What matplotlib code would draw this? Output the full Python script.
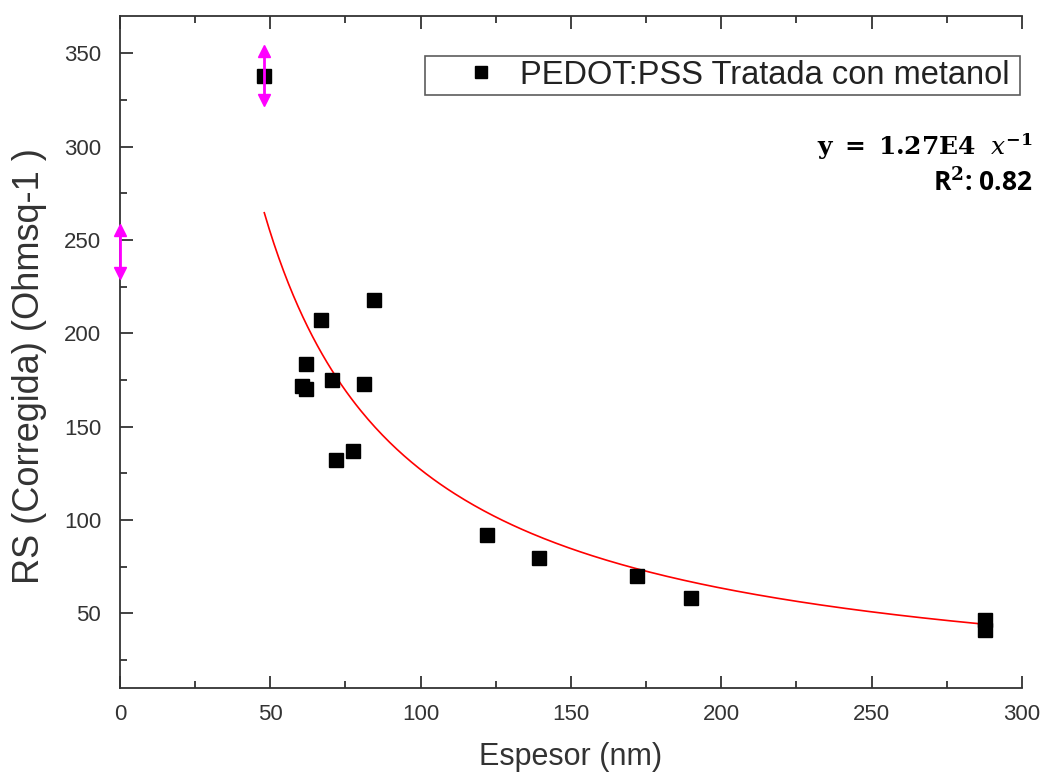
import matplotlib.pyplot as plt
import numpy as np
from matplotlib.ticker import MultipleLocator

# Measured thickness (nm) vs corrected sheet resistance
espesor = [48, 84.5, 67, 62, 60.5, 62, 70.5, 81, 77.5, 72,
           122, 139.5, 172, 190, 287.7, 287.7]
rs = [338, 218, 207, 183.5, 172, 170, 175, 173, 137, 132,
      92, 79.5, 70, 58, 46.5, 41]

# Error bars that are drawn (first point and an extra one on the y axis)
err_x = [48, 0]
err_y = [338, 244]
err_val = [13, 11.5]

# Power fit y = A / x
fit_a = 1.27e4
fit_label = r"$\mathbf{y}\ \mathbf{=}\ \mathbf{1.27E4}\ \ x^{\mathbf{-1}}$"
r2_label = r"R$^\mathbf{2}$: 0.82"

plt.rcParams["font.family"] = ["Liberation Sans", "DejaVu Sans"]
plt.rcParams["mathtext.fontset"] = "dejavuserif"

fig = plt.figure(figsize=(10.45, 7.79), dpi=100)
ax = fig.add_axes([0.1148, 0.1168, 0.8632, 0.8627])

gray = "#333333"
magenta = "#ff00ff"

# fit curve
xf = np.linspace(min(espesor), max(espesor), 300)
ax.plot(xf, fit_a / xf, color="red", lw=1.2, zorder=2)

# data
ax.plot(espesor, rs, "s", color="black", markersize=10, zorder=3,
        label="PEDOT:PSS Tratada con metanol")

# magenta error bars with arrow caps
ey = np.array(err_y)
ev = np.array(err_val)
eb = ax.errorbar(err_x, err_y, yerr=err_val, fmt="none", ecolor=magenta,
                 elinewidth=2, capsize=0, zorder=4)
eb[2][0].set_clip_on(False)
ax.plot(err_x, ey - ev, "v", color=magenta, markersize=9, zorder=4, clip_on=False)
ax.plot(err_x, ey + ev, "^", color=magenta, markersize=9, zorder=4, clip_on=False)

ax.set_xlim(0, 300)
ax.set_ylim(10, 370)
ax.xaxis.set_major_locator(MultipleLocator(50))
ax.xaxis.set_minor_locator(MultipleLocator(25))
ax.yaxis.set_minor_locator(MultipleLocator(25))
ax.set_yticks([50, 100, 150, 200, 250, 300, 350])

ax.spines["right"].set_visible(False)
for s in ["left", "bottom", "top"]:
    ax.spines[s].set_color(gray)
    ax.spines[s].set_linewidth(1.3)
ax.tick_params(which="both", direction="in", top=True, right=False,
               color=gray, width=1.3, labelsize=16, labelcolor=gray)
ax.tick_params(which="major", length=9)
ax.tick_params(which="minor", length=5)
ax.tick_params(axis="x", which="major", pad=11.5)
ax.tick_params(axis="y", which="major", pad=13.5)

ax.set_xlabel("Espesor (nm)", fontsize=22, color=gray, labelpad=12)
ax.set_ylabel("RS (Corregida) (Ohmsq-1 )", fontsize=26, color=gray)
ax.yaxis.set_label_coords(-0.081, 0.479)

leg = ax.legend(loc="upper left", bbox_to_anchor=(0.338, 0.8795, 0.6596, 0.061),
                mode="expand", borderaxespad=0, fontsize=23.5, frameon=True,
                fancybox=False, edgecolor=gray, borderpad=0.12,
                handlelength=3.2, handletextpad=-0.39, markerscale=0.85)
leg.get_frame().set_linewidth(1.2)
for t in leg.get_texts():
    t.set_color("#222222")

fig.text(0.988, 0.812, fit_label, fontsize=18, ha="right", va="center")
fig.text(0.988, 0.765, r2_label, fontsize=19, ha="right", va="center",
         fontweight="bold", family=["Open Sans", "DejaVu Sans"])

fig.savefig("out.png", dpi=100)
